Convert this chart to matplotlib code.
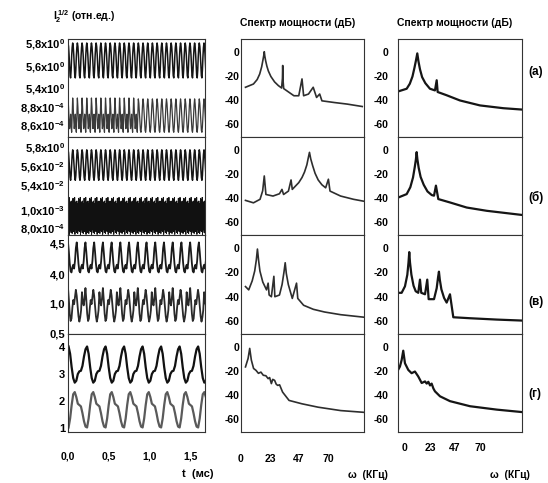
import numpy as np
import matplotlib.pyplot as plt

plt.rcParams['font.family'] = ['Liberation Sans', 'DejaVu Sans']
plt.rcParams['font.weight'] = 'bold'
plt.rcParams['mathtext.fontset'] = 'custom'
plt.rcParams['mathtext.rm'] = 'Liberation Sans:bold'
plt.rcParams['mathtext.it'] = 'Liberation Sans:bold'
plt.rcParams['mathtext.bf'] = 'Liberation Sans:bold'

# ---------------- time traces (one period, repeated) -----
# (а) I2 ~ 5.4..5.8 x10^0  and  8.6..8.8 x10^-4
a_top_shape = [5.80, 5.77, 5.70, 5.60, 5.51, 5.49, 5.56, 5.68, 5.76]
a_top_periods = 30
a_bot_shape1 = [8.90, 8.80, 8.66, 8.56, 8.62, 8.72, 8.58, 8.52, 8.70]
a_bot_shape2 = [8.89, 8.84, 8.74, 8.62, 8.54, 8.52, 8.58, 8.70, 8.82]
a_bot_periods = (15, 15)
a_period = 0.0575  # мс

# (б) 5.4..5.8 x10^-2  and  8.0..10 x10^-4 (noisy band)
b_top_shape = [5.77, 5.74, 5.66, 5.56, 5.48, 5.45, 5.50, 5.62, 5.72]
b_top_periods = 30
b_period = 0.0575
b_bot_block = [11.2, 7.6, 10.4, 8.1, 11.4, 7.3, 9.8, 8.6, 10.9, 7.8,
               10.1, 7.5, 11.0, 8.3, 9.5, 7.4, 10.7, 8.0, 11.3, 7.7]
b_bot_blocks = 26
b_block = 0.068

# (в)
c_top_shape = [4.51, 4.36, 4.18, 4.06, 4.04, 4.12, 4.16, 4.10, 4.22, 4.42]
c_top_periods = 17
c_bot_shape = [1.25, 1.05, 0.82, 0.70, 0.74, 0.92, 1.05, 0.98, 1.10, 1.22,
               1.12, 0.95, 0.78, 0.69, 0.76, 0.88, 1.18, 1.02, 0.96, 1.08]
c_bot_periods = 9
c_period = 0.107

# (г)
d_top_shape = [4.02, 3.75, 3.25, 2.85, 2.68, 2.75, 3.00, 3.10, 3.12, 3.30, 3.65, 3.92]
d_bot_shape = [1.02, 1.35, 1.85, 2.25, 2.33, 2.15, 1.90, 1.85, 1.80, 1.55, 1.25, 1.05]
d_periods = 8
d_period = 0.227
d_t0 = 0.007

t_ticks = [0.0, 0.5, 1.0, 1.5]
t_labels = ['0,0', '0,5', '1,0', '1,5']

# ---------------- spectra (КГц, дБ) ----------------------------------------
mid_a_f = [3.6, 10, 13, 15, 16.6, 17.6, 18.3, 18.7, 19.1, 19.8, 20.8, 22, 24, 27, 30,
           32.6, 33.3, 33.5, 33.8, 34.3, 38.6, 42.5, 46.4, 49, 50.3, 54.2, 58, 60.7,
           63.2, 65, 74.9, 85.3, 97.4]
mid_a_db = [-29.4, -26.7, -23, -18.5, -12.5, -7, -3, 0, -3.5, -7.5, -12, -16, -20.5, -25, -28,
            -30, -22, -11.4, -24, -30.5, -33.6, -36.4, -36.4, -22.5, -36.4, -35, -29.4, -37.8,
            -35, -40.6, -42, -43.3, -45.3]
mid_b_f = [3.6, 10, 15.3, 17.4, 18.7, 20, 25.7, 30.9, 32.9, 34.2, 38.1, 40.2, 41.2,
           46.4, 49, 51, 52.9, 54, 55, 56, 57.5, 59.5, 62, 65, 68, 70.2, 71.5, 80, 90.4, 98.2]
mid_b_db = [-41.9, -43.9, -41, -34, -21.7, -37, -38.3, -36.4, -32.8, -37, -34.2, -25, -32.8,
            -27.2, -23, -18.5, -12.5, -7, -2.2, -7.5, -13, -19.5, -25, -29, -31.5, -24.4,
            -34.2, -38.3, -41, -42.5]
mid_c_f = [3.6, 6.2, 9, 11, 12.3, 13.2, 14.1, 15.2, 17.5, 20.5, 21.8, 22.6, 24.4, 26.4, 27.2,
           30.9, 33, 34.5, 35.5, 36.4, 38, 41.2, 44.6, 45.6, 50.3, 58.1, 67.1, 80.1, 98.2]
mid_c_db = [-31.7, -34.4, -27, -19, -10, -1, -10, -19, -28, -34.4, -28.9, -38.6, -40, -23.3, -40,
            -38.6, -30, -20, -12.2, -21, -30, -41.4, -28.9, -41.4, -47, -50.3, -52.5, -54.7, -56.7]
mid_d_f = [3.6, 5.7, 7, 8.3, 10.1, 12, 14, 16, 17.9, 20, 21.8, 23, 24.4, 25.5, 27, 28.3,
           29.5, 31, 33.4, 38.6, 49, 62, 80.1, 98.2]
mid_d_db = [-16.7, -9.7, -1.4, -11, -18, -19.5, -22, -21, -23.6, -24, -26.4, -25.5, -30.5,
            -27, -27.8, -31, -32, -31.5, -37.5, -44.4, -47.2, -50, -52.8, -54.2]

right_a_f = [-6.2, 1.6, 4.5, 7, 8.8, 10.2, 11.5, 12.6, 14, 16, 19, 23.3, 28, 29.6, 30.5,
             38.9, 51.3, 70, 91.8, 108.9]
right_a_db = [-32.8, -30.6, -26.5, -20.5, -13.5, -7.5, -1.4, -8, -14.5, -21, -26, -30.6, -32,
              -23.6, -33.3, -36, -40.3, -44.4, -46.7, -47.8]
right_b_f = [-6.2, 1.6, 5, 7.5, 9.2, 10.2, 10.9, 11.6, 12.8, 14.6, 17.5, 21, 25, 27.1, 28.9,
             31.1, 42, 57.6, 76.3, 108.9]
right_b_db = [-39.5, -36.7, -31, -23, -14, -8, -2, -8, -15, -22.5, -29, -34.5, -37.5, -38,
              -29.7, -40.8, -43.6, -47.8, -50.5, -53.9]
right_c_f = [-7.2, -3.1, 0, 2.2, 3.3, 4, 4.7, 6, 8, 10, 12.4, 14, 15.2, 18.7, 20.8, 22.1,
             27.1, 29.6, 30.9, 31.7, 32.5, 34, 36.5, 38.9, 42, 45.1, 60.7, 85.6, 108.9]
right_c_db = [-36.8, -36.8, -31.5, -22, -12, -3.5, -12, -22, -31, -35.5, -36.8, -26, -36.8, -38,
              -26, -42, -42, -33, -24, -19.5, -26, -34, -41, -44.8, -38, -56.8, -57.6, -58.7, -59.5]
right_d_f = [-7.2, -4.7, -3.1, -1.6, 0, 3.1, 6.2, 9.3, 12.4, 15.6, 18.7, 20.3, 21.8, 23.4,
             24.9, 26.5, 28, 32.7, 42, 60.7, 85.6, 108.9]
right_d_db = [-20.5, -16.4, -11, -3.3, -13.7, -19.2, -21.9, -20.5, -24.6, -30, -28.7, -30.5,
              -29, -32, -30.5, -34.5, -36.9, -41, -45, -49.2, -52, -54]

db_ticks = [0, -20, -40, -60]
db_labels = ['0', '-20', '-40', '-60']
f_ticks = [0, 23.33, 46.67, 70]
f_labels = ['0', '23', '47', '70']
panel_names = ['(а)', '(б)', '(в)', '(г)']


def repeat_wave(shape, periods, period, t0=0.0):
    vals = np.tile(np.asarray(shape, dtype=float), periods)
    t = t0 + np.arange(vals.size) * period / len(shape)
    return t, vals


def to_panel(v, scale):
    v_lo, v_hi, y_lo, y_hi = scale
    return y_lo + (np.asarray(v, dtype=float) - v_lo) * (y_hi - y_lo) / (v_hi - v_lo)


W, H = 548, 483
fig = plt.figure(figsize=(W / 100, H / 100), dpi=100)


def px_axes(x0, x1, y0, y1):
    return fig.add_axes([x0 / W, 1 - y1 / H, (x1 - x0) / W, (y1 - y0) / H])


rows = [39, 137, 235, 334, 432]
spine_c = '#333333'

# traces of the left column
ta, va = repeat_wave(a_top_shape, a_top_periods, a_period)
t1, v1 = repeat_wave(a_bot_shape1, a_bot_periods[0], a_period)
t2, v2 = repeat_wave(a_bot_shape2, a_bot_periods[1], a_period, t1[-1] + a_period / 9)
tb, vb = repeat_wave(b_top_shape, b_top_periods, b_period)
tn, vn = repeat_wave(b_bot_block, b_bot_blocks, b_block)
tc, vc = repeat_wave(c_top_shape, c_top_periods, c_period)
tc2, vc2 = repeat_wave(c_bot_shape, c_bot_periods, 2 * c_period)
td, vd = repeat_wave(d_top_shape, d_periods, d_period, d_t0)
td2, vd2 = repeat_wave(d_bot_shape, d_periods, d_period, d_t0)

left = [
    dict(traces=[(ta, va, (5.4, 5.8, 0.50, 0.959), '#151515', 1.1),
                 (np.r_[t1, t2], np.r_[v1, v2], (8.6, 8.8, 0.122, 0.306), '#3a3a3a', 0.9)],
         ticks=[([5.8, 5.6, 5.4], ['5,8x10$^{0}$', '5,6x10$^{0}$', '5,4x10$^{0}$'],
                 (5.4, 5.8, 0.50, 0.959)),
                ([8.8, 8.6], ['8,8x10$^{-4}$', '8,6x10$^{-4}$'], (8.6, 8.8, 0.122, 0.306))]),
    dict(traces=[(tb, vb, (5.4, 5.8, 0.51, 0.898), '#151515', 1.1),
                 (tn, vn, (8.0, 10.0, 0.071, 0.255), '#111111', 0.7)],
         ticks=[([5.8, 5.6, 5.4], ['5,8x10$^{0}$', '5,6x10$^{-2}$', '5,4x10$^{-2}$'],
                 (5.4, 5.8, 0.51, 0.898)),
                ([10.0, 8.0], ['1,0x10$^{-3}$', '8,0x10$^{-4}$'], (8.0, 10.0, 0.071, 0.255))]),
    dict(traces=[(tc, vc, (4.0, 4.5, 0.596, 0.919), '#1a1a1a', 1.3),
                 (tc2, vc2, (0.5, 1.0, 0.01, 0.313), '#2a2a2a', 1.3)],
         ticks=[([4.5, 4.0], ['4,5', '4,0'], (4.0, 4.5, 0.596, 0.919)),
                ([1.0, 0.5], ['1,0', '0,5'], (0.5, 1.0, 0.01, 0.313))]),
    dict(traces=[(td, vd, (1.0, 4.0, 0.041, 0.867), '#111111', 1.6),
                 (td2, vd2, (1.0, 4.0, 0.041, 0.867), '#5a5a5a', 1.6)],
         ticks=[([4, 3, 2, 1], ['4', '3', '2', '1'], (1.0, 4.0, 0.041, 0.867))]),
]

for i, p in enumerate(left):
    ax = px_axes(68, 205, rows[i], rows[i + 1])
    for t, v, sc, c, lw in p['traces']:
        ax.plot(t, to_panel(v, sc), color=c, lw=lw)
    ax.set_xlim(0.07, 1.68)
    ax.set_ylim(0, 1)
    pos, labs = [], []
    for vals, lb, sc in p['ticks']:
        pos += list(to_panel(vals, sc))
        labs += lb
    ax.set_yticks(pos)
    ax.set_yticklabels(labs)
    ax.tick_params(axis='y', length=0, pad=2, labelsize=8)
    ax.set_xticks(t_ticks)
    if i == 3:
        ax.set_xticklabels(t_labels)
        ax.tick_params(axis='x', length=0, pad=14, labelsize=7.5)
    else:
        ax.tick_params(axis='x', length=0, labelbottom=False)
    for s in ax.spines.values():
        s.set_linewidth(0.8)
        s.set_color(spine_c)

# spectra
mid = [(mid_a_f, mid_a_db), (mid_b_f, mid_b_db), (mid_c_f, mid_c_db), (mid_d_f, mid_d_db)]
right = [(right_a_f, right_a_db), (right_b_f, right_b_db),
         (right_c_f, right_c_db), (right_d_f, right_d_db)]

for col, (x0, x1, xlim, ypad, xpad, c, lw) in enumerate([
        (241, 364, (3.1, 98.8), 1, 16, '#2e2e2e', 1.2),
        (398, 522, (-6.5, 109.2), 7, 8, '#151515', 1.6)]):
    data = mid if col == 0 else right
    for i, (f, db) in enumerate(data):
        ax = px_axes(x0, x1, rows[i], rows[i + 1])
        ax.plot(f, db, color=c, lw=lw)
        ax.set_xlim(*xlim)
        ax.set_ylim(-70.5, 10.5)
        ax.set_yticks(db_ticks)
        ax.set_yticklabels(db_labels)
        ax.tick_params(axis='y', length=0, pad=ypad, labelsize=7.5)
        ax.set_xticks(f_ticks)
        if i == 3:
            ax.set_xticklabels(f_labels)
            ax.tick_params(axis='x', length=0, pad=xpad, labelsize=7.5)
        else:
            ax.tick_params(axis='x', length=0, labelbottom=False)
        for s in ax.spines.values():
            s.set_linewidth(0.8)
            s.set_color(spine_c)
        if col == 1:
            fig.text(528 / W, 1 - [72, 197, 302, 394][i] / H, panel_names[i],
                     ha='left', va='center', fontsize=8.5)


def ftext(x, y, s, **kw):
    fig.text(x / W, 1 - y / H, s, va='center', **kw)


ftext(53, 17, '$I_2^{\\,1/2}$ (отн.ед.)', ha='left', fontsize=7.5)
ftext(298, 23, 'Спектр мощности (дБ)', ha='center', fontsize=7.5)
ftext(455, 23, 'Спектр мощности (дБ)', ha='center', fontsize=7.5)
ftext(198, 474, 't  (мс)', ha='center', fontsize=8)
ftext(368, 475, 'ω  (КГц)', ha='center', fontsize=7.5)
ftext(510, 475, 'ω  (КГц)', ha='center', fontsize=7.5)

fig.savefig('out.png', dpi=100)
